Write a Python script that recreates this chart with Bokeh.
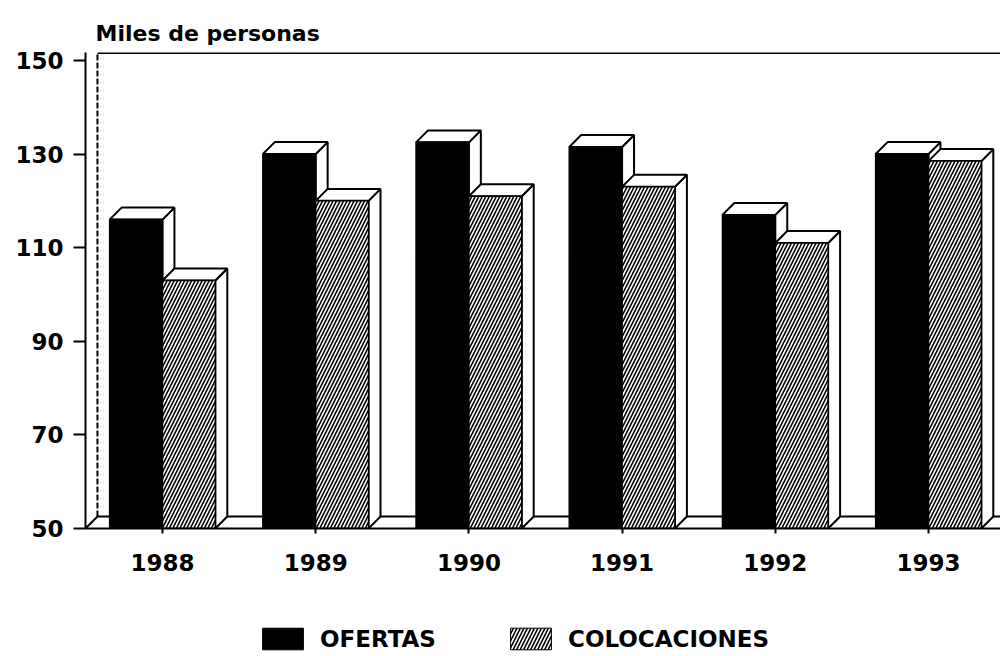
from bokeh.plotting import figure
from bokeh.layouts import column
from bokeh.models import Range1d, FixedTicker, Legend, LegendItem
from bokeh.embed import file_html
from bokeh.resources import INLINE

# ---- data ----
years = ["1988", "1989", "1990", "1991", "1992", "1993"]
ofertas = [116, 130, 132.5, 131.5, 117, 130]
colocaciones = [103, 120, 121, 123, 111, 128.5]
y_ticks = [50, 70, 90, 110, 130, 150]
series_names = ["OFERTAS", "COLOCACIONES"]

# ---- layout constants ----
X0, X1 = -0.5026, 5.47
Y0, Y1 = 50, 151.7
BW = 0.345          # bar width (data units)
DX, DY = 0.078, 2.56  # 3D depth offsets
FONT = "DejaVu Sans"

p = figure(width=1000, height=588, output_backend="svg", toolbar_location=None,
           x_range=Range1d(X0, X1), y_range=Range1d(Y0, Y1),
           min_border_left=85, min_border_right=0, min_border_top=52,
           min_border_bottom=60, title="Miles de personas")
p.outline_line_color = None
p.xgrid.visible = False
p.ygrid.visible = False
p.background_fill_color = "white"

p.title.align = "left"
p.title.offset = 10
p.title.text_font = FONT
p.title.text_font_style = "bold"
p.title.text_font_size = "22px"
p.title.text_color = "black"
p.title.standoff = 13

# back wall / floor
p.line([X0 + DX, X0 + DX], [Y0 + DY, Y1], line_color="black", line_width=2, line_dash="6 2")
p.line([X0 + DX, X1], [Y1, Y1], line_color="black", line_width=3)
p.line([X0, X0 + DX], [Y0, Y0 + DY], line_color="black", line_width=2)
p.line([X0 + DX, X1], [Y0 + DY, Y0 + DY], line_color="black", line_width=2)

def faces(lefts, rights, tops):
    side_x, side_y, top_x, top_y = [], [], [], []
    for l, r, t in zip(lefts, rights, tops):
        side_x.append([r, r + DX, r + DX, r])
        side_y.append([Y0, Y0 + DY, t + DY, t])
        top_x.append([l, l + DX, r + DX, r])
        top_y.append([t, t + DY, t + DY, t])
    return side_x, side_y, top_x, top_y

idx = list(range(len(years)))
for k, vals in enumerate([ofertas, colocaciones]):
    lefts = [i - BW + k * BW for i in idx]
    rights = [l + BW for l in lefts]
    sx, sy, tx, ty = faces(lefts, rights, vals)
    p.patches(sx, sy, fill_color="white", line_color="black", line_width=2)
    p.patches(tx, ty, fill_color="white", line_color="black", line_width=2)
    if k == 0:
        p.quad(left=lefts, right=rights, bottom=Y0, top=vals,
               fill_color="black", line_color="black", line_width=1.5)
    else:
        p.quad(left=lefts, right=rights, bottom=Y0, top=vals,
               fill_color="white", line_color="black", line_width=1.5,
               hatch_pattern="/", hatch_color="black", hatch_scale=7,
               hatch_weight=1.6)

# axes
for ax in (p.xaxis, p.yaxis):
    ax.axis_line_width = 2
    ax.axis_line_color = "black"
    ax.major_tick_in = 0
    ax.major_tick_line_width = 2
    ax.major_tick_line_color = "black"
    ax.minor_tick_line_color = None
    ax.major_label_text_font = FONT
    ax.major_label_text_font_style = "bold"
    ax.major_label_text_font_size = "23px"
    ax.major_label_text_color = "black"

p.yaxis.ticker = FixedTicker(ticks=y_ticks)
p.yaxis.major_tick_out = 12
p.yaxis.major_label_standoff = 10

p.xaxis.ticker = FixedTicker(ticks=idx)
p.xaxis.major_label_overrides = {i: y for i, y in zip(idx, years)}
p.xaxis.major_tick_out = 5
p.xaxis.major_label_standoff = 20

# ---- legend strip ----
p2 = figure(width=1000, height=68, output_backend="svg", toolbar_location=None,
            x_range=Range1d(0, 1), y_range=Range1d(0, 1),
            x_axis_location=None, y_axis_location=None,
            min_border=0, outline_line_color=None)
p2.grid.visible = False
r1 = p2.quad(left=[5], right=[6], bottom=[5], top=[6], fill_color="black", line_color="black")
r2 = p2.quad(left=[5], right=[6], bottom=[5], top=[6], fill_color="white", line_color="black",
             hatch_pattern="/", hatch_color="black", hatch_scale=7, hatch_weight=1.6)
common = dict(orientation="horizontal", glyph_width=51, glyph_height=27,
              label_text_font=FONT, label_text_font_style="bold",
              label_text_font_size="23px", label_text_color="black",
              label_standoff=12, border_line_color=None,
              background_fill_alpha=0, margin=0, padding=0)
leg1 = Legend(items=[LegendItem(label=series_names[0], renderers=[r1])],
              location=(172, 4), **common)
leg2 = Legend(items=[LegendItem(label=series_names[1], renderers=[r2])],
              location=(420, 4), **common)
p2.add_layout(leg1, "center")
p2.add_layout(leg2, "center")

open("out.html", "w").write(file_html(column(p, p2, spacing=0), INLINE))
